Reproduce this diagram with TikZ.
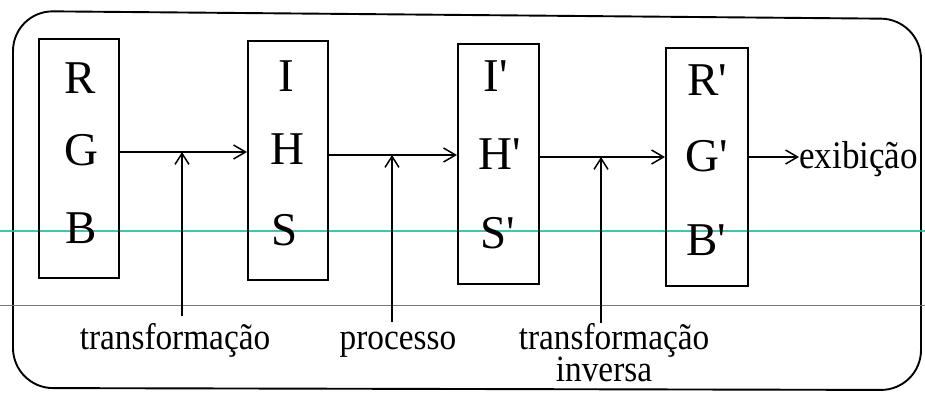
\documentclass[tikz,border=0pt]{standalone}
\usepackage{fontspec}
\setmainfont{Liberation Serif}
\newfontfamily\capfont[FakeStretch=0.9]{Liberation Serif}
\usetikzlibrary{arrows.meta}
\definecolor{rule1}{RGB}{40,182,168}
\definecolor{rule2}{RGB}{120,120,120}
\begin{document}
\begin{tikzpicture}[x=1pt,y=-1pt,
  stage/.style={draw,line width=1.9pt,rectangle,inner sep=0pt,anchor=north west},
  letter/.style={anchor=base,inner sep=0pt,font=\fontsize{47}{48}\selectfont},
  caption/.style={anchor=base,inner sep=0pt,font=\capfont\fontsize{37}{40}\selectfont},
  flow/.style={line width=1.6pt,-{Straight Barb[length=12pt,width=14pt,line width=1.5pt]}},
  feed/.style={line width=1.6pt,-{Straight Barb[length=11pt,width=14pt,line width=1.5pt]}}]
\useasboundingbox (0,0) rectangle (925,394);

% outer frame
\draw[line width=1.9pt,rounded corners=40pt]
  (13,388) -- (13,11) -- (921,19) -- (921,390) -- cycle;

% ruled lines of the sheet
\draw[rule2,line width=0.9pt] (0,305) -- (925,305);
\draw[rule1,line width=2.2pt,opacity=0.85] (0,231) -- (925,231);

% the four stages
\node[stage,minimum width=80pt,minimum height=239pt] (rgb) at (38,38) {};
\node[stage,minimum width=80pt,minimum height=239pt] (ihs) at (247,40) {};
\node[stage,minimum width=81pt,minimum height=240pt] (ihsp) at (457,43) {};
\node[stage,minimum width=82pt,minimum height=238pt] (rgbp) at (665,47) {};

% channel letters
\node[letter] (r1) at (80,93) {R};
\node[letter] (g1) at (81,165) {G};
\node[letter] (b1) at (81,243) {B};
\node[letter] (i2) at (286,91) {I};
\node[letter] (h2) at (287,164) {H};
\node[letter] (s2) at (285,245) {S};
\node[letter] (i3) at (496,91) {I\textquotesingle};
\node[letter] (h3) at (500,169) {H\textquotesingle};
\node[letter] (s3) at (498,248) {S\textquotesingle};
\node[letter] (r4) at (707,95) {R\textquotesingle};
\node[letter] (g4) at (707,171) {G\textquotesingle};
\node[letter] (b4) at (706,255) {B\textquotesingle};

% captions
\node[caption] (tf) at (175,349) {transformação};
\node[caption] (pr) at (398,349) {processo};
\node[caption] (ti) at (614,349) {transformação};
\node[caption] (inv) at (604,381) {inversa};
\node[caption,anchor=base west,font=\capfont\fontsize{39}{40}\selectfont] (ex) at (799,168) {exibição};

% junctions on the main flow and tails of the control arrows
\coordinate (j1) at (182,152);
\coordinate (j2) at (392,155);
\coordinate (j3) at (601,157);
\coordinate (t1) at (182,316);
\coordinate (t2) at (392,322);
\coordinate (t3) at (601,323);

% main flow
\draw[flow] (rgb.east |- j1) -- (ihs.west |- j1);
\draw[flow] (ihs.east |- j2) -- (ihsp.west |- j2);
\draw[flow] (ihsp.east |- j3) -- (rgbp.west |- j3);
\draw[flow] (rgbp.east |- ex.base) ++(0,-11) coordinate (o4) -- (ex.west |- o4);

% control inputs
\draw[feed] (t1) -- (j1);
\draw[feed] (t2) -- (j2);
\draw[feed] (t3) -- (j3);
\end{tikzpicture}
\end{document}
